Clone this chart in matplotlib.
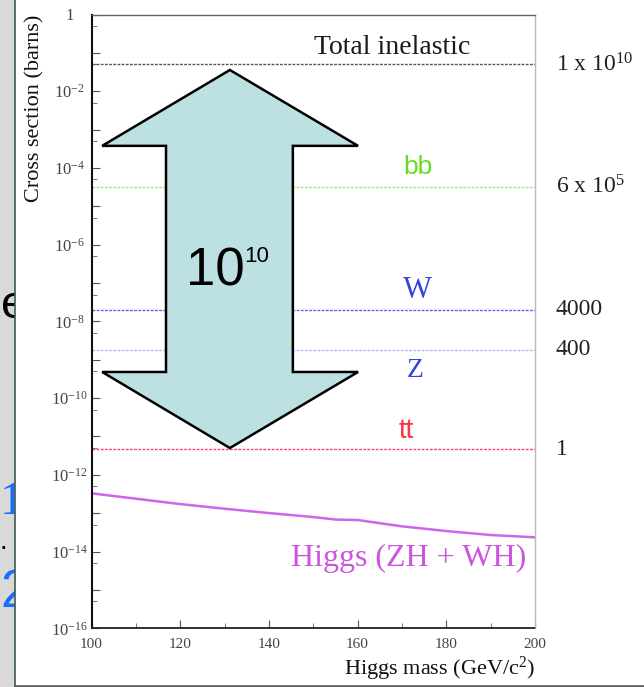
import math
import matplotlib
matplotlib.use('Agg')
import matplotlib.pyplot as plt
from matplotlib.patches import Polygon, Rectangle
from matplotlib.lines import Line2D
from matplotlib.ticker import FixedLocator, FuncFormatter, NullFormatter
import matplotlib.transforms as mtrans

plt.rcParams['font.family'] = ['Liberation Serif', 'DejaVu Serif']
plt.rcParams['mathtext.fontset'] = 'custom'
plt.rcParams['mathtext.rm'] = 'Liberation Serif'
plt.rcParams['mathtext.it'] = 'Liberation Serif:italic'
plt.rcParams['mathtext.bf'] = 'Liberation Serif:bold'
plt.rcParams['mathtext.sf'] = 'Liberation Sans'

# ---------------- data ----------------
processes = ['Total inelastic', 'bb', 'W', 'Z', 'tt']
cross_section_barns = [5.0e-2, 3.2e-5, 2.0e-8, 1.8e-9, 4.7e-12]
relative_rates = ['1 x 10$^{10}$', '6 x 10$^{5}$', '4000', '400', '1']
higgs_mass = [100, 110, 120, 130, 140, 150, 155, 160, 170, 180, 190, 200]
higgs_xsec = [3.30e-13, 2.39e-13, 1.73e-13, 1.31e-13, 1.01e-13, 7.94e-14,
              6.84e-14, 6.64e-14, 4.55e-14, 3.43e-14, 2.70e-14, 2.35e-14]
higgs_label = 'Higgs (ZH + WH)'
x_major_ticks = [100, 120, 140, 160, 180, 200]
x_minor_ticks = [110, 130, 150, 170, 190]
y_exponents = list(range(-16, 1))
arrow_base, arrow_power = '10', '10'
x_label = 'Higgs mass (GeV/c$^2$)'
y_label = 'Cross section (barns)'

# ---------------- styles ----------------
line_colors = ['#555555', '#9be87a', '#5a66ee', '#b0b6ff', '#ee4a6a']
label_colors = ['#1a1a1a', '#66dd22', '#3344dd', '#3344dd', '#ff3344']
label_families = [['Liberation Serif'], ['Liberation Sans'], ['Liberation Serif'],
                  ['Liberation Serif'], ['Liberation Sans']]
label_sizes = [20, 19, 22, 20, 20]
label_mass = [167.8, 173.5, 173.4, 172.9, 171.0]
label_offset_px = [10, 13, 12, -27, 11]

W, H = 644, 687
fig = plt.figure(figsize=(W / 100, H / 100), dpi=100)
fig.patch.set_facecolor('white')

# slide fragments on the left (grey strip, partly hidden text, white panel on top)
fig.add_artist(Rectangle((0, 0), 14.5 / W, 1, transform=fig.transFigure,
                         facecolor='#d9d9d7', edgecolor='none', zorder=0))
frags = [('e', 1, 318, 'black', 34, ['Liberation Sans']),
         ('1', 0, 514, '#1a6cff', 34, ['Liberation Serif']),
         ('.', 0, 549, 'black', 20, ['Liberation Sans']),
         ('2', 0, 607, '#1a6cff', 38, ['Liberation Sans'])]
for s, px, py, c, fs, fam in frags:
    fig.text(px / W, 1 - py / H, s, color=c, fontsize=fs, ha='left', va='baseline',
             family=fam, zorder=1)
fig.add_artist(Rectangle((15 / W, 0), 1 - 15 / W, 1, transform=fig.transFigure,
                         facecolor='white', edgecolor='none', zorder=1.5))
fig.add_artist(Line2D([15 / W, 15 / W], [0, 1], transform=fig.transFigure,
                      color='#3d5a4f', lw=1.2, zorder=1.8))
fig.add_artist(Line2D([15 / W, 1], [1.2 / H, 1.2 / H], transform=fig.transFigure,
                      color='#555555', lw=1.8, zorder=1.8))

ax = fig.add_axes([91.5 / W, 1 - 628.3 / H, 443.5 / W, 613.8 / H])
ax.set_zorder(3)
ax.set_facecolor('white')
ax.set_yscale('log')
ax.set_xlim(100, 200)
ax.set_ylim(1e-16, 1)

# horizontal process lines
for val, lc in zip(cross_section_barns, line_colors):
    ax.axhline(val, color=lc, lw=1.0, ls=(0, (2, 1)), zorder=2)

ax.plot(higgs_mass, higgs_xsec, color='#cc66ee', lw=1.8, zorder=2)

# process labels inside
for name, val, c, fam, fs, m, off in zip(processes, cross_section_barns, label_colors,
                                          label_families, label_sizes, label_mass,
                                          label_offset_px):
    ax.annotate(name, xy=(m, val), xytext=(0, off * 0.72), textcoords='offset points',
                ha='center', va='baseline', color=c, fontsize=fs, family=fam, zorder=4)

# relative rate labels outside on the right
for val, lab in zip(cross_section_barns, relative_rates):
    ax.text(1.047, val, lab, transform=ax.get_yaxis_transform(), ha='left', va='center',
            fontsize=17, color='#222222', clip_on=False)

blend = mtrans.blended_transform_factory(ax.transData, ax.transAxes)
ax.text(171.4, 0.1015, higgs_label, transform=blend, ha='center', va='baseline',
        fontsize=23, color='#cc55dd', zorder=4)

# big double arrow (axes coordinates)
tip_x, hl, hr, sl, sr = 0.312, 0.024, 0.601, 0.168, 0.454
yt, yhb_t, yhb_b, yb = 0.9096, 0.786, 0.4176, 0.2937
verts = [(tip_x, yt), (hr, yhb_t), (sr, yhb_t), (sr, yhb_b), (hr, yhb_b),
         (tip_x, yb), (hl, yhb_b), (sl, yhb_b), (sl, yhb_t), (hl, yhb_t)]
ax.add_patch(Polygon(verts, closed=True, transform=ax.transAxes, facecolor='#bde0e3',
                     edgecolor='black', lw=1.8, zorder=3, joinstyle='miter'))
ax.text(0.2785, 0.5593, arrow_base, transform=ax.transAxes, ha='center', va='baseline',
        fontsize=38, color='black', family=['Liberation Sans'], zorder=5)
ax.text(0.344, 0.5968, arrow_power, transform=ax.transAxes, ha='left', va='baseline',
        fontsize=16, color='black', family=['Liberation Sans'], zorder=5)

# ticks
ax.yaxis.set_major_locator(FixedLocator([10.0 ** k for k in y_exponents]))
def yfmt(v, pos):
    k = int(round(math.log10(v)))
    if k == 0:
        return '1'
    if k % 2 == 0:
        return '$10^{%d}$' % k
    return ''
ax.yaxis.set_major_formatter(FuncFormatter(yfmt))
ax.yaxis.set_minor_locator(FixedLocator([5 * 10.0 ** k for k in y_exponents[:-1]]))
ax.yaxis.set_minor_formatter(NullFormatter())
ax.xaxis.set_major_locator(FixedLocator(x_major_ticks))
ax.xaxis.set_minor_locator(FixedLocator(x_minor_ticks))
ax.tick_params(axis='both', which='major', direction='in', length=6, width=0.8,
               color='#555555', labelcolor='#444444', labelsize=12)
ax.tick_params(axis='both', which='minor', direction='in', length=3.5, width=0.7,
               color='#777777')
ax.tick_params(axis='x', which='major', pad=7, labelsize=11)
ax.tick_params(axis='y', which='major', pad=16)
plt.setp(ax.get_yticklabels(), ha='center')

for side, c, lw in [('left', '#111111', 1.5), ('bottom', '#222222', 1.3),
                    ('top', '#666666', 1.0), ('right', '#bbbbbb', 1.0)]:
    ax.spines[side].set_color(c)
    ax.spines[side].set_linewidth(lw)
    ax.spines[side].set_linestyle((0, (1, 1)))

ax.set_xlabel(x_label, loc='right', fontsize=16, labelpad=3, color='#111111')
ax.set_ylabel(y_label, loc='top', fontsize=16, color='#111111')
ax.yaxis.set_label_coords(-0.105, 1.0)

fig.savefig('out.png', dpi=100)
